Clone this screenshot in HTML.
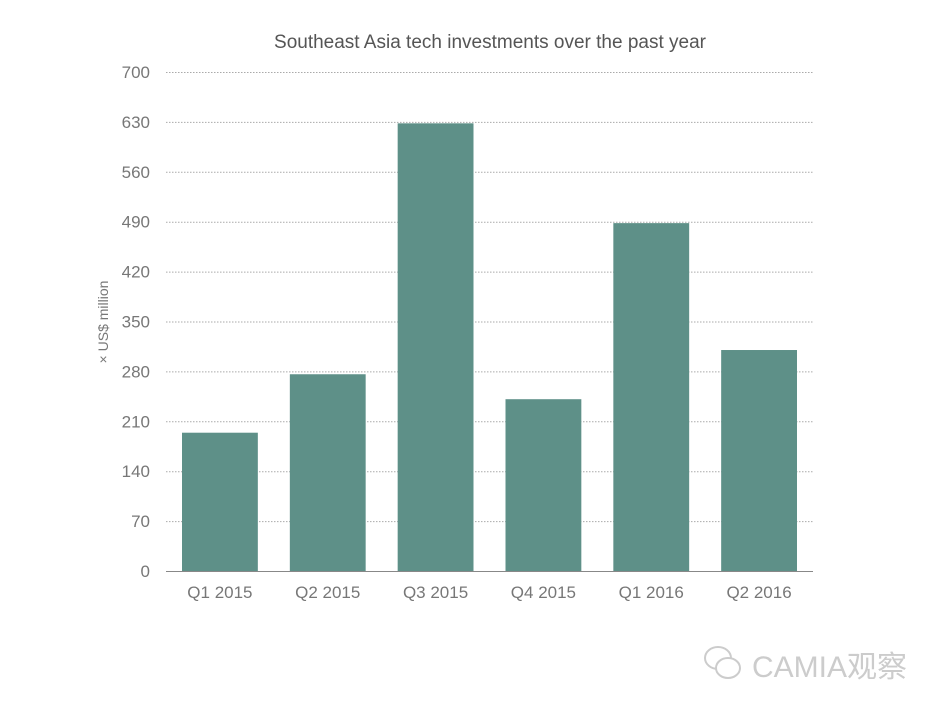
<!DOCTYPE html>
<html><head><meta charset="utf-8"><style>
html,body{margin:0;padding:0;background:#fff;width:950px;height:713px;overflow:hidden}
svg text{font-family:"Liberation Sans","Noto Sans CJK SC",sans-serif}
</style></head><body>
<svg id="chart" width="950" height="713" xmlns="http://www.w3.org/2000/svg">
<text x="490" y="48" text-anchor="middle" font-size="19" fill="#555">Southeast Asia tech investments over the past year</text>
<text transform="translate(108,322) rotate(-90)" text-anchor="middle" font-size="14" fill="#777">× US$ million</text>
<g id="grid"></g><g id="bars"></g><g id="xlabels"></g>
<line x1="166" y1="571.5" x2="813" y2="571.5" stroke="#888" stroke-width="1"/>
<g fill="none" stroke="#ccc" stroke-width="2">
<ellipse cx="718" cy="658" rx="13" ry="11"/><ellipse cx="728" cy="668" rx="12" ry="10" fill="#fff"/>
<text x="752" y="677" font-size="30" fill="#ccc" stroke="none">CAMIA观察</text>
</g>
</svg>
<script>
const categories=["Q1 2015","Q2 2015","Q3 2015","Q4 2015","Q1 2016","Q2 2016"];
const values=[194,276,628,241,488,310];
const ticks=[0,70,140,210,280,350,420,490,560,630,700];
const NS="http://www.w3.org/2000/svg";
const x0=166,x1=813,yBase=571,yTop=72,yMax=700;
const y=v=>yBase-(v/yMax)*(yBase-yTop);
const band=(x1-x0)/categories.length;
const xb=i=>x0+i*band;
const grid=document.getElementById('grid'),bars=document.getElementById('bars'),xl=document.getElementById('xlabels');
function mk(t,a){const e=document.createElementNS(NS,t);for(const k in a)e.setAttribute(k,a[k]);return e;}
ticks.forEach(t=>{
  if(t>0){const l=mk('line',{x1:x0,x2:x1,y1:y(t)+0.5,y2:y(t)+0.5,stroke:'#aaa','stroke-dasharray':'1.5 1.5'});
  
  
  grid.appendChild(l);}
  const tx=mk('text',{x:150,y:y(t)+6,'text-anchor':'end','font-size':17,fill:'#777'});
  tx.textContent=t;
  
  
  grid.appendChild(tx);
});
categories.forEach((c,i)=>{
  const r=mk('rect',{x:xb(i)+16,width:band-32,y:y(values[i]),height:yBase-y(values[i]),fill:'#5e9088'});
  
  
  bars.appendChild(r);
  const t=mk('text',{x:xb(i)+band/2,y:598,'text-anchor':'middle','font-size':17,fill:'#777'});
  t.textContent=c;
  
  
  xl.appendChild(t);
});
</script>
</body></html>
